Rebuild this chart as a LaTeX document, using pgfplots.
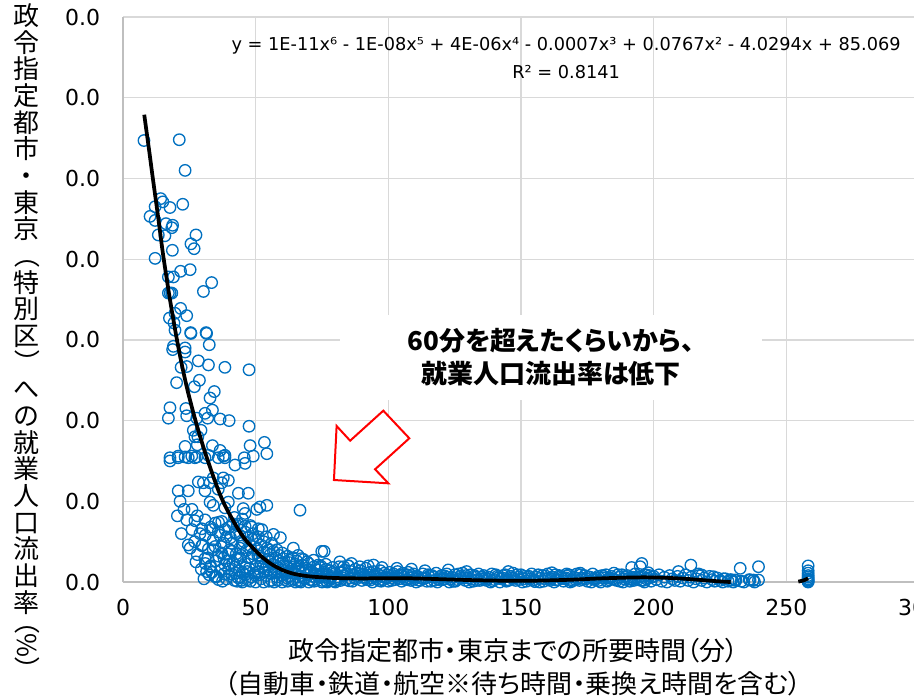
\documentclass[border=0pt]{standalone}
\usepackage{fontspec}
\setmainfont{DejaVu Sans}
\newfontfamily\cjk{Noto Sans CJK JP}[RawFeature=+palt]
\newfontfamily\cjkv{Noto Sans CJK JP}
\usepackage{graphicx}
\usepackage{pgfplots}
\pgfplotsset{compat=1.18}
\definecolor{ptblue}{RGB}{0,112,192}
\definecolor{gridgray}{RGB}{217,217,217}
\definecolor{axgray}{RGB}{191,191,191}
\pgfplotsset{pts/.style={only marks, mark=o, mark size=4.3pt, mark options={ptblue, line width=1pt}}}

\begin{document}
\begin{tikzpicture}
\begin{axis}[
  scale only axis, width=597pt, height=423.75pt,
  xmin=0, xmax=300, ymin=0, ymax=70,
  xtick={0,50,...,300}, ytick={0,10,...,70},
  xticklabels={0,50,100,150,200,250,300},
  yticklabels={0.0,0.0,0.0,0.0,0.0,0.0,0.0,0.0},
  major tick length=0pt,
  axis x line*=bottom, axis y line*=left,
  axis line style={axgray, line width=1.2pt},
  grid=major, grid style={gridgray, line width=1pt},
  tick label style={font=\fontsize{16.5}{18}\selectfont, black},
  xticklabel style={inner sep=0pt, yshift=-13pt},
  yticklabel style={inner sep=0pt, xshift=-17pt},
  clip=false, clip marker paths=true,
]
% outlying points
\addplot[pts] coordinates {
(7.9,54.7)(21.2,54.8)(23.4,51.0)(14.2,47.5)(15.0,47.1)(12.1,46.5)(17.7,46.4)(22.5,46.8)(10.2,45.3)(12.1,44.8)
(16.2,44.4)(18.7,44.2)(18.4,43.9)(13.3,43.0)(15.8,42.9)(27.5,43.0)(25.6,41.9)(26.8,41.3)(18.6,41.1)(12.1,40.1)
(21.7,38.5)(25.3,38.7)(17.1,37.8)(19.0,37.8)(33.4,37.1)(30.3,36.0)(17.1,35.8)(17.8,35.8)(18.4,35.8)(21.7,33.9)
(24.0,33.0)(19.6,33.3)(17.5,32.7)(19.2,32.1)(19.6,31.2)(25.5,30.9)(31.3,30.9)(19.0,29.2)(23.4,29.0)(32.5,29.4)
(25.6,30.8)(31.5,30.8)(18.7,28.8)(23.4,28.5)(28.4,27.4)(32.2,26.9)(38.4,26.6)(47.5,26.3)(21.9,26.6)(24.0,26.7)
(20.2,24.7)(28.8,25.0)(26.9,24.2)(34.4,23.6)(32.8,22.8)(17.7,21.6)(17.1,20.3)(23.7,21.5)(24.0,20.6)(30.9,20.9)
(31.9,20.3)(33.7,21.3)(27.8,20.3)(36.6,20.2)(40.0,20.0)(47.5,19.3)(29.4,18.8)(26.5,18.8)(27.1,18.0)(28.2,18.0)
(28.0,17.0)(33.7,16.9)(23.4,16.8)(36.6,16.3)(37.8,15.6)(47.9,16.9)(53.3,17.3)(54.2,15.9)(49.1,15.6)(17.7,15.4)
(20.8,15.4)(24.6,15.4)(27.1,15.4)(30.9,15.4)(38.4,15.4)(45.7,15.4)(17.7,15.0)(20.8,15.6)(23.4,15.5)(25.9,15.6)
(27.8,15.5)(32.2,15.7)(35.9,15.4)(38.4,15.7)(42.2,14.5)(46.0,14.7)(34.0,12.9)(37.8,12.9)(39.7,12.6)(28.4,12.4)
(30.3,12.3)(32.8,12.3)(37.2,12.3)(20.8,11.3)(24.6,11.3)(30.9,11.3)(35.9,11.5)(43.5,11.0)(47.2,11.0)(21.5,10.0)
(32.8,9.9)(34.0,9.5)(39.7,9.9)(38.4,9.2)(45.3,9.1)(50.4,9.0)(51.6,9.3)(54.2,9.5)(66.7,8.9)(24.0,7.7)
(27.1,7.6)(30.9,7.7)(34.7,7.3)(37.2,7.5)(43.5,7.2)(46.0,6.9)(48.5,6.8)(29.7,6.6)(33.4,6.5)(35.9,6.2)
(42.2,6.2)(52.3,6.5)(56.7,5.9)(59.3,5.5)(51.0,5.6)(24.6,4.6)(25.3,4.2)(29.7,4.5)(32.2,4.1)(34.7,4.4)
(64.2,4.2)(74.9,3.8)(30.9,2.9)(32.8,1.9)(34.7,0.66)(44.1,0.66)(38.4,2.1)(37.2,3.6)(31.5,1.3)(35.3,0.66)
(20.5,8.2)(22.0,6.0)(23.0,9.0)(26.0,9.0)(28.0,8.2)
};
% dense cloud 25-80
\addplot[pts] coordinates {
(26,6.5)(27,5.0)(28,3.4)(29,6.0)(30,4.6)(31,5.8)(32,3.0)(33,6.8)(34,5.2)(35,2.6)(36,7.4)(37,4.4)(38,3.0)
(39,5.6)(40,6.8)(41,4.8)(42,8.0)(43,7.0)(44,3.0)(45,7.8)(46,8.5)(47,5.5)(49,6.0)(51,6.6)(53,5.0)(55,4.0)
(27.5,2.5)(29.5,1.6)(31,2.3)(33.5,1.2)(36,0.3)(38,1.0)(39,0.4)(41,1.0)(43,0.1)(46,0.9)
(33,2.0)(34,4.0)(35,0.7)(36.5,5.8)(38.5,6.5)(41.5,7.2)(39.5,3.5)(44,5.8)(46,6.2)(48,7.0)(50,5.2)(52,4.6)
(54,5.6)(56,4.8)(58,4.0)(60,3.6)(62,3.2)(64,3.0)(66,3.3)(68,2.8)(40,2.2)(42,0.2)(45,0)(48,0.1)(50,0)(53,0)
(55,0.1)(57,0)(60,0)(62,0.1)(65,0)(67,0)(70,0)(72,0.1)(75,0)(77,0)(80,0)
(36,3.2)(37,1.5)(38,4.8)(39,2.6)(40,0.8)(40.5,5.5)(41,3.8)(42,1.9)(42.5,6.0)(43,2.8)(43.5,0.5)(44,4.2)
(44.5,3.3)(45,1.2)(45.5,5.0)(46,2.3)(46.5,3.9)(47,0.3)(47.5,1.7)(48,4.5)(48.5,2.9)(49,3.5)(49.5,0.9)(50,2.0)
(50.5,4.1)(51,1.3)(51.5,3.0)(52,0.4)(52.5,2.5)(53,3.7)(53.5,1.6)(54,0.8)(54.5,2.8)(55,1.9)(55.5,3.4)(56,0.2)
(56.5,2.2)(57,1.1)(57.5,3.0)(58,0.6)(58.5,1.8)(59,2.6)(59.5,0.9)(60,1.5)(60.5,2.9)(61,0.3)(61.5,2.0)(62,1.2)
(62.5,0.7)(63,2.4)(63.5,1.6)(64,0.4)(64.5,1.9)(65,1.0)(65.5,2.6)(66,0.6)(66.5,1.4)(67,0.2)(67.5,2.1)(68,1.1)
(68.5,0.5)(69,1.7)(69.5,0.9)(70,2.3)(70.5,0.3)(71,1.3)(71.5,0.7)(72,1.9)(72.5,1.0)(73,0.4)(73.5,1.5)(74,0.8)
(74.5,2.0)(75,0.2)(75.5,1.2)(76,0.6)(76.5,1.6)(77,0.9)(77.5,0.3)(78,1.4)(78.5,0.7)(79,1.8)(79.5,0.1)(80,1.1)
(40.2,4.0)(41.3,2.4)(42.7,3.5)(43.8,1.4)(44.9,4.8)(46.2,1.8)(47.3,3.0)(48.6,5.3)(49.7,1.1)(50.8,3.3)(51.9,2.3)
(53.2,1.2)(54.3,4.2)(55.4,2.5)(56.7,3.8)(57.8,1.6)(58.9,3.3)(60.2,2.4)(61.3,1.0)(62.6,2.7)(63.7,0.2)(64.8,2.2)
(65.9,1.6)(67.2,2.9)(68.3,0.4)(69.4,2.5)(70.7,1.5)(71.8,2.7)(72.9,0.9)(74.2,1.8)(75.3,1.0)(76.4,2.2)(77.7,0.5)
(78.8,1.2)(80.3,0.3)(81.7,2.5)(83.2,1.9)(86.1,2.3)(89.2,1.9)(92.4,2.0)(97.6,1.8)(103.2,1.7)(108.7,1.6)
(75.8,3.8)(94.4,2.1)(84.9,2.0)(73.6,2.1)
(30.5,0.4)(32.5,0.9)(37.5,0.1)(39.8,1.6)(42.4,1.1)(44.6,0.2)(46.8,1.3)(48.3,0.6)(51.4,0.9)(52.8,1.9)(55.8,1.1)
(58.3,0.2)(59.8,1.2)(61.8,0.5)(63.3,1.3)(66.3,0.1)(68.8,1.4)(71.3,0.2)(73.8,0.6)(76.8,0.1)(78.3,0.5)
};
% band 80-200
\addplot[pts] coordinates {
(81,0.6)(81.5,1.9)(82,0.2)(82.5,1.2)(83,0.8)(83.5,1.5)(84,0.3)(84.5,1.0)(85,2.0)(85.5,0.5)(86,1.3)(86.5,0.1)
(87,0.9)(87.5,1.6)(88,0.4)(88.5,1.1)(89,0.7)(89.5,1.4)(90,0.2)(90.5,1.0)(91,0.6)(91.5,1.7)(92,0.3)(92.5,0.9)
(93,1.2)(93.5,0.5)(94,0.0)(94.5,1.3)(95,0.8)(95.5,0.4)(96,1.0)(96.5,0.2)(97,1.4)(97.5,0.7)(98,0.3)(98.5,1.1)
(99,0.6)(99.5,0.9)(100,0.1)(100.5,1.2)(101,0.5)(101.5,0.8)(102,1.0)(102.5,0.3)(103,0.7)(103.5,1.3)(104,0.4)
(104.5,0.9)(105,0.1)(105.5,1.1)(106,0.6)(106.5,0.3)(107,0.9)(107.5,1.2)(108,0.5)(108.5,0.2)(109,0.8)(109.5,1.0)
(110,0.4)(111,0.7)(112,0.2)(113,1.0)(114,0.5)(115,0.9)(116,0.1)(117,0.6)(118,1.1)(119,0.3)(120,0.8)(121,0.4)
(122,1.0)(123,0.0)(124,0.6)(125,0.9)(126,0.3)(127,0.7)(128,1.1)(129,0.2)(130,0.5)(131,0.9)(132,0.1)(133,0.6)
(134,1.0)(135,0.4)(136,0.8)(137,0.2)(138,0.6)(139,1.0)(140,0.3)(141,0.7)(142,0.0)(143,0.5)(144,0.9)(145,0.3)
(146,0.7)(147,1.1)(148,0.2)(149,0.6)(150,0.9)(151,0.4)(152,0.1)(153,0.7)(154,1.0)(155,0.3)(156,0.6)(157,0.0)
(158,0.8)(159,0.4)(160,1.0)(161,0.2)(162,0.6)(163,0.9)(164,0.3)(165,0.7)(166,0.1)(167,0.5)(168,0.9)(169,0.3)
(170,0.6)(171,1.0)(172,0.2)(173,0.5)(174,0.8)(175,0.1)(176,0.6)(177,1.0)(178,0.3)(179,0.7)(180,0.0)(181,0.5)
(182,0.9)(183,0.3)(184,0.7)(185,1.1)(186,0.2)(187,0.6)(188,0.9)(189,0.4)(190,0.8)(191,0.1)(192,0.6)(193,1.0)
(194,0.3)(195,0.7)(196,0.2)(197,0.9)(198,0.5)(199,0.1)(200,0.7)
(110.5,0.0)(112.5,0.5)(114.5,0.1)(116.5,0.8)(118.5,0.0)(120.5,0.3)(122.5,0.6)(124.5,0.1)(126.5,1.0)(128.5,0.5)
(130.5,0.0)(132.5,0.8)(134.5,0.2)(136.5,0.5)(138.5,0.0)(140.5,0.9)(142.5,0.4)(144.5,0.1)(146.5,0.5)(148.5,0.9)
(150.5,0.0)(152.5,0.6)(154.5,0.2)(156.5,0.9)(158.5,0.1)(160.5,0.5)(162.5,0.0)(164.5,0.8)(166.5,0.4)(168.5,0.0)
(170.5,0.3)(172.5,0.9)(174.5,0.4)(176.5,0.0)(178.5,0.5)(180.5,0.8)(182.5,0.1)(184.5,0.4)(186.5,0.9)(188.5,0.0)
(190.5,0.4)(192.5,0.2)(194.5,0.6)(196.5,0.0)(198.5,0.8)
(113.8,1.4)(122.6,1.5)(129.5,1.3)(145.2,1.3)(161.6,1.15)(167.2,1.0)(172.3,1.1)
(81.25,0.35)(83.25,0.75)(85.25,0.15)(87.25,0.55)(89.25,1.0)(91.25,0.45)(93.25,0.25)(95.25,0.65)(97.25,0.1)
(99.25,0.5)(101.25,0.2)(103.25,0.55)(105.25,0.8)(107.25,0.3)(109.25,0.6)(111.25,0.25)(113.25,0.45)(115.25,0.7)
(117.25,0.2)(119.25,0.55)(121.25,0.75)(123.25,0.35)(125.25,0.1)(127.25,0.45)(129.25,0.8)(131.25,0.35)
(133.25,0.2)(135.25,0.65)(137.25,0.4)(139.25,0.15)(141.25,0.5)(143.25,0.8)(145.25,0.2)(147.25,0.45)
(149.25,0.3)(151.25,0.7)(153.25,0.35)(155.25,0.05)(157.25,0.45)(159.25,0.75)(161.25,0.4)(163.25,0.25)
(165.25,0.5)(167.25,0.75)(169.25,0.1)(171.25,0.45)(173.25,0.3)(175.25,0.65)(177.25,0.35)(179.25,0.2)
(181.25,0.7)(183.25,0.5)(185.25,0.3)(187.25,0.1)(189.25,0.65)(191.25,0.35)(193.25,0.5)(195.25,0.2)
(197.25,0.4)(199.25,0.6)
};
% tail 200-260
\addplot[pts] coordinates {
(201,0.3)(202,0.9)(203,0.1)(204,0.6)(205,0.0)(206,0.8)(207,0.4)(208,0.2)(209,0.7)(210,0.1)(211,0.5)(212,0.9)
(213,0.2)(214,0.6)(215,0.0)(216,0.4)(217,0.8)(218,0.2)(219,0.5)(220,0.0)(221,0.7)(222,0.3)(223,0.1)(224,0.5)
(225,0.2)(226,0.0)(227,0.4)(228,0.1)(229,0.3)(230,0.0)(231,0.2)(233,0.1)(236,0.3)(237.5,0.2)(239.5,0.25)
(234,0)(238,0)
(191.7,1.8)(195.5,2.3)(194.9,1.9)(198,1.15)(209.3,1.3)(214,2.1)(216.9,1.0)(218.1,0.87)(222.5,0.66)(232.6,1.7)
(239.5,1.9)(229.4,0.25)(230.7,0.25)(236.3,0.25)(237.6,0.25)(226.3,0.4)
(258.2,2.0)(258.2,1.4)(258.2,1.1)(258.2,0.8)(258.2,0.6)(258.2,0.4)(258.2,0.25)(258.2,0.1)(258.2,0)
};
% polynomial trend line
\addplot[black, line width=2.8pt, smooth, no marks] coordinates {
(8,57.9)(9,55.5)(10,53.1)(11,50.6)(12,48.2)(13,45.8)(14,43.3)(15,40.8)(16.5,37.5)(18,34.4)(20,30.6)(22,27.2)
(24,24.2)(26,21.6)(28,19.2)(30.3,16.7)(32,15.0)(34,13.1)(36,11.3)(38.4,9.5)(41,7.9)(43.5,6.5)(46,5.3)(49,4.2)
(52,3.2)(56,2.2)(60,1.5)(64,1.05)(68,0.8)(72,0.65)(80,0.5)(90,0.45)(100,0.48)(110,0.45)(120,0.35)(130,0.25)
(140,0.18)(150,0.15)(160,0.2)(170,0.3)(180,0.45)(190,0.55)(197,0.58)(205,0.52)(212,0.4)(218,0.25)(224,0.1)(229,0)
};
\addplot[black, line width=2.8pt, no marks] coordinates {(254.5,0.05)(256.5,0.2)(258.2,0.45)};

% annotation
\fill[white] (axis cs:81.8,22.6) rectangle (axis cs:241,33.1);
\node[align=center, inner sep=0pt, font=\cjk\bfseries\fontsize{19.5}{24.75}\selectfont]
  at (axis cs:161.3,27.8) {60分を超えたくらいから、\\就業人口流出率は低下};
\draw[red, line width=1.5pt, fill=white, line join=miter]
  (axis cs:79.5,12.64) -- (axis cs:80.5,19.33) -- (axis cs:85.6,17.51) -- (axis cs:98.1,21.23)
  -- (axis cs:107.9,17.81) -- (axis cs:95.0,13.97) -- (axis cs:100.0,12.23) -- cycle;

% trend equation
\node[font=\fontsize{13.3}{16}\selectfont, inner sep=0pt] at (axis cs:167,66.4)
  {y = 1E-11x⁶ - 1E-08x⁵ + 4E-06x⁴ - 0.0007x³ + 0.0767x² - 4.0294x + 85.069};
\node[font=\fontsize{13.3}{16}\selectfont, inner sep=0pt] at (axis cs:167,63.2) {R² = 0.8141};

% axis titles
\node[align=center, inner sep=0pt, font=\cjk\fontsize{19.5}{24.75}\selectfont]
  at (axis cs:147,-10.6) {政令指定都市・東京までの所要時間（分）\\（自動車・鉄道・航空※待ち時間・乗換え時間を含む）};
\node[anchor=north, align=center, inner sep=0pt, font=\cjkv\fontsize{19.5}{20}\selectfont]
  at (axis cs:-36.2,71.7) {政\\令\\指\\定\\都\\市\\・\\東\\京\\\rotatebox[origin=c]{-90}{（}\\特\\別\\区\\\rotatebox[origin=c]{-90}{）}\\へ\\の\\就\\業\\人\\口\\流\\出\\率\\[4pt]\rotatebox[origin=c]{-90}{\cjk（\%）}};

\coordinate (bbl) at (axis cs:-46.36,-14.25);
\coordinate (btr) at (axis cs:298.1,72.11);
\end{axis}
\pgfresetboundingbox
\path[use as bounding box] (bbl) rectangle (btr);
\end{tikzpicture}
\end{document}
